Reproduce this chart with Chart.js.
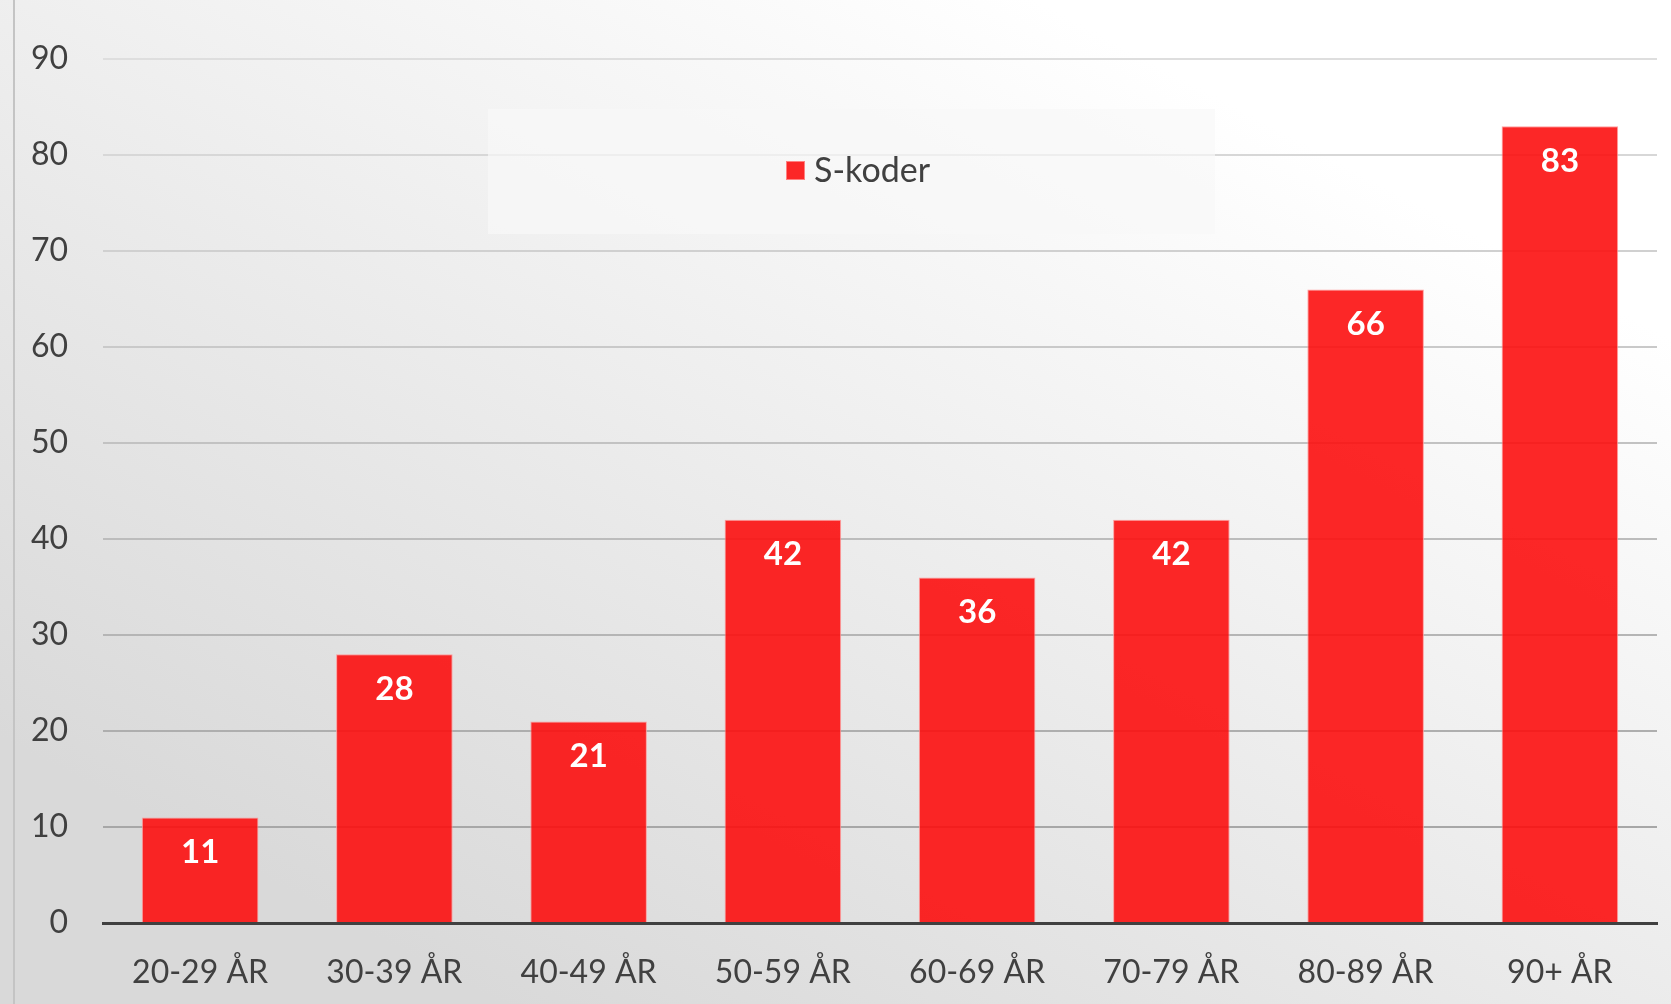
<!DOCTYPE html>
<html lang="sv">
<head>
    <meta charset="UTF-8">
    <title>S-koder per åldersgrupp</title>
    <script src="https://cdn.jsdelivr.net/npm/chart.js"></script>
    <style>
        html, body { margin: 0; padding: 0; background: #ffffff; }
        #wrap { width: 1671px; height: 1004px; position: relative; }
    </style>
</head>
<body>
    <div id="wrap"><canvas id="grafik"></canvas></div>

    <script>
        const kategorier = ["20-29 ÅR", "30-39 ÅR", "40-49 ÅR", "50-59 ÅR", "60-69 ÅR", "70-79 ÅR", "80-89 ÅR", "90+ ÅR"];
        const sKoder = [11, 28, 21, 42, 36, 42, 66, 83];
        const serieNamn = "S-koder";
        const yMax = 90;
        const ySteg = 10;

        const rod = "rgba(252, 16, 16, 0.9)";
        const textFarg = "#404040";

        // bakgrund med mjuk gradient + vänsterkant
        const bakgrund = {
            id: "bakgrund",
            beforeDraw(chart) {
                const { ctx, width, height } = chart;
                const g = ctx.createLinearGradient(width * 0.62, 0, width * 0.3, height);
                g.addColorStop(0, "#ffffff");
                g.addColorStop(1, "#d9d9d9");
                ctx.save();
                ctx.fillStyle = g;
                ctx.fillRect(0, 0, width, height);
                ctx.strokeStyle = "#c4c4c4";
                ctx.lineWidth = 2;
                ctx.beginPath();
                ctx.moveTo(14, 0);
                ctx.lineTo(14, height);
                ctx.stroke();
                ctx.restore();
            }
        };

        // förklaring i en ljus ruta inne i diagrammet
        const forklaring = {
            id: "forklaring",
            beforeDatasetsDraw(chart) {
                const { ctx } = chart;
                ctx.save();
                ctx.fillStyle = "rgba(248, 248, 248, 0.7)";
                ctx.fillRect(488, 109, 727, 125);
                ctx.fillStyle = rod;
                ctx.fillRect(786, 161, 19, 19);
                ctx.strokeStyle = "rgba(255,140,140,0.9)";
                ctx.lineWidth = 1;
                ctx.strokeRect(786.5, 161.5, 18, 18);
                ctx.fillStyle = textFarg;
                ctx.font = "34px Lato";
                ctx.textBaseline = "middle";
                ctx.fillText(chart.data.datasets[0].label, 814, 171);
                ctx.restore();
            }
        };

        // värden i vitt, fetstil, strax under stapelns topp
        const vardeEtiketter = {
            id: "vardeEtiketter",
            afterDatasetsDraw(chart) {
                const { ctx } = chart;
                const meta = chart.getDatasetMeta(0);
                ctx.save();
                ctx.fillStyle = "#ffffff";
                ctx.font = "bold 33px Lato";
                ctx.textAlign = "center";
                ctx.textBaseline = "middle";
                meta.data.forEach((bar, i) => {
                    ctx.fillText(chart.data.datasets[0].data[i], bar.x, bar.y + 35);
                });
                ctx.restore();
            }
        };

        function gridFarg(ctx) {
            const v = ctx.tick ? ctx.tick.value : 0;
            const t = v / yMax;
            const c = Math.round(160 + t * 62);
            return `rgb(${c}, ${c}, ${c})`;
        }

        new Chart(document.getElementById("grafik"), {
            type: "bar",
            data: {
                labels: kategorier,
                datasets: [{
                    label: serieNamn,
                    data: sKoder,
                    backgroundColor: rod,
                    borderColor: "rgba(255, 150, 150, 0.9)",
                    borderWidth: 1,
                    barPercentage: 0.6,
                    categoryPercentage: 1.0
                }]
            },
            options: {
                responsive: true,
                maintainAspectRatio: false,
                animation: false,
                layout: { padding: { top: 59, right: 14, left: 0, bottom: 0 } },
                plugins: {
                    legend: { display: false },
                    tooltip: { enabled: false }
                },
                scales: {
                    x: {
                        grid: { display: false },
                        border: { display: true, color: "#404040", width: 3 },
                        ticks: {
                            color: textFarg,
                            font: { family: "Lato", size: 32 },
                            padding: 22,
                            maxRotation: 0
                        },
                        afterFit(scale) { scale.height = 81; }
                    },
                    y: {
                        min: 0,
                        max: yMax,
                        ticks: {
                            stepSize: ySteg,
                            color: textFarg,
                            font: { family: "Lato", size: 32 },
                            padding: 35
                        },
                        grid: {
                            color: gridFarg,
                            lineWidth: 2,
                            drawTicks: false
                        },
                        border: { display: false },
                        afterFit(scale) { scale.width = 103; }
                    }
                }
            },
            plugins: [bakgrund, forklaring, vardeEtiketter]
        });
    </script>
</body>
</html>
